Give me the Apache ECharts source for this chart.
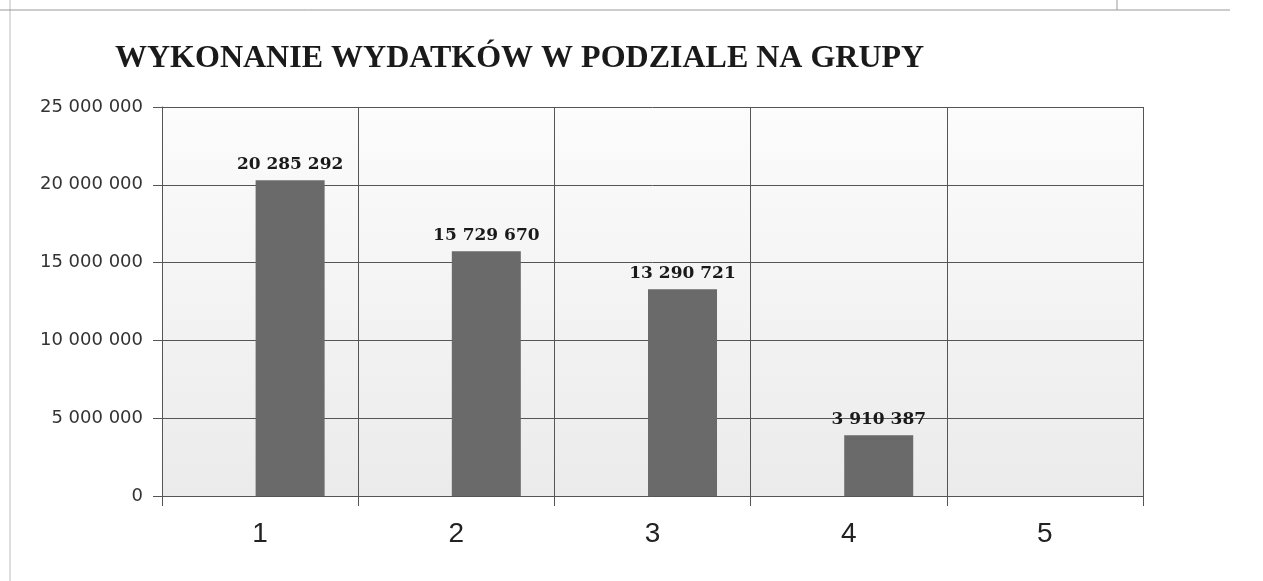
<!DOCTYPE html>
<html>
<head>
<meta charset="utf-8">
<script src="https://cdn.jsdelivr.net/npm/echarts@6/dist/echarts.min.js"></script>
<style>
  html, body { margin: 0; padding: 0; background: #fff; }
  #chart { width: 1263px; height: 581px; }
</style>
</head>
<body>
<div id="chart"></div>
<script>
const titleText = 'WYKONANIE WYDATKÓW W PODZIALE NA GRUPY'
const groups = ['1', '2', '3', '4', '5']
const spending = [20285292, 15729670, 13290721, 3910387, null]
const yTicks = [0, 5000000, 10000000, 15000000, 20000000, 25000000]

// 20285292 -> "20 285 292"
const spaced = v => String(Math.round(v)).replace(/\B(?=(\d{3})+(?!\d))/g, ' ')

let chart = echarts.init(document.getElementById('chart'))

let options = {
  animation: false,
  backgroundColor: '#fff',
  title: {
    text: titleText,
    left: 110,
    top: 38,
    textStyle: {
      fontFamily: 'Liberation Serif',
      fontWeight: 'bold',
      fontSize: 32,
      color: '#1a1a1a',
    },
  },
  grid: {
    left: 162,
    right: 120,
    top: 107,
    bottom: 85,
    show: true,
    borderWidth: 0,
    backgroundColor: {
      type: 'linear', x: 0, y: 0, x2: 0, y2: 1,
      colorStops: [
        { offset: 0, color: '#fcfcfc' },
        { offset: 1, color: '#ebebeb' },
      ],
    },
  },
  xAxis: {
    type: 'category',
    data: groups,
    axisLine: { show: true, lineStyle: { color: '#555', width: 1 } },
    axisTick: { show: true, length: 10, lineStyle: { color: '#555' } },
    axisLabel: {
      fontFamily: 'Liberation Sans',
      fontSize: 28,
      color: '#222',
      margin: 24,
    },
    splitLine: { show: true, lineStyle: { color: '#555', width: 1 } },
  },
  yAxis: {
    type: 'value',
    min: yTicks[0],
    max: yTicks[yTicks.length - 1],
    interval: yTicks[1] - yTicks[0],
    axisLine: { show: true, lineStyle: { color: '#555', width: 1 } },
    axisTick: { show: true, length: 9, lineStyle: { color: '#555' } },
    axisLabel: {
      fontFamily: 'DejaVu Sans',
      fontSize: 18,
      color: '#333',
      margin: 19,
      formatter: v => spaced(v),
    },
    splitLine: { show: true, lineStyle: { color: '#555', width: 1 } },
  },
  series: [
    {
      type: 'bar',
      barWidth: 69,
      barGap: '-13%',
      data: groups.map(() => null),
      silent: true,
    },
    {
      type: 'bar',
      barWidth: 69,
      barGap: '-13%',
      itemStyle: { color: '#6a6a6a' },
      label: {
        show: true,
        position: 'top',
        distance: 7,
        fontFamily: 'DejaVu Serif',
        fontWeight: 'bold',
        fontSize: 17,
        color: '#1a1a1a',
        formatter: p => spaced(p.value),
      },
      data: spending,
    },
  ],
  graphic: [
    { type: 'line', shape: { x1: 10, y1: 0, x2: 10, y2: 581 }, style: { stroke: '#bbb', lineWidth: 1 } },
    { type: 'line', shape: { x1: 0, y1: 10, x2: 1230, y2: 10 }, style: { stroke: '#999', lineWidth: 1 } },
    { type: 'line', shape: { x1: 1117, y1: 0, x2: 1117, y2: 10 }, style: { stroke: '#999', lineWidth: 1 } },
  ],
}

chart.setOption(options)
</script>
</body>
</html>
